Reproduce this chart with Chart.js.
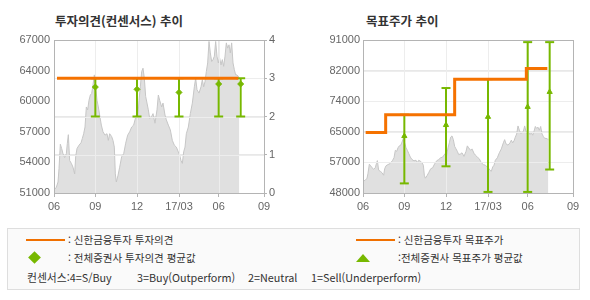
<!DOCTYPE html>
<html lang="ko">
<head>
<meta charset="utf-8">
<script src="https://cdn.jsdelivr.net/npm/chart.js@4.4.1/dist/chart.umd.min.js"></script>
<style>
  body { margin: 0; width: 590px; height: 300px; background: #fff; position: relative; overflow: hidden;
         font-family: "Noto Sans CJK KR", "Noto Sans", sans-serif; color: #333; }
  canvas { position: absolute; top: 0; }
  .title { position: absolute; top: 12px; font-size: 12.5px; font-weight: bold; line-height: 18px; color: #333; }
  #legend { position: absolute; left: 7px; top: 228px; width: 571px; height: 60px; border: 1px solid #dedede; background: #fafafa; }
  .lg { position: absolute; font-size: 10.5px; line-height: 14px; color: #333; white-space: pre; }
  .sw { position: absolute; height: 2px; width: 39px; background: #f07000; }
  .dia { position: absolute; width: 9px; height: 9px; background: #77b800; transform: rotate(45deg); }
  .tri { position: absolute; width: 0; height: 0; border-left: 7px solid transparent; border-right: 7px solid transparent; border-bottom: 8px solid #77b800; }
  .note { position: absolute; font-size: 10.8px; line-height: 14px; color: #333; white-space: pre; top: 270px; }
</style>
</head>
<body>
<div class="title" style="left:55px">투자의견(컨센서스) 추이</div>
<div class="title" style="left:366px">목표주가 추이</div>
<canvas id="opinion" width="300" height="225" style="left:0"></canvas>
<canvas id="target" width="290" height="225" style="left:300px"></canvas>

<div id="legend"></div>
<div class="sw" style="left:26px;top:239px"></div>
<div class="lg" style="left:68px;top:233px">: 신한금융투자 투자의견</div>
<div class="sw" style="left:356px;top:239px"></div>
<div class="lg" style="left:398px;top:233px">: 신한금융투자 목표주가</div>
<div class="dia" style="left:30px;top:253px"></div>
<div class="lg" style="left:68px;top:251px">: 전체증권사 투자의견 평균값</div>
<div class="tri" style="left:356px;top:254px"></div>
<div class="lg" style="left:398px;top:251px">:전체증권사 목표주가 평균값</div>
<div class="note" style="left:27px">컨센서스:4=S/Buy</div>
<div class="note" style="left:137px">3=Buy(Outperform)</div>
<div class="note" style="left:248px">2=Neutral</div>
<div class="note" style="left:311px">1=Sell(Underperform)</div>

<script>
// ── axes ────────────────────────────────────────────────────────────────
const xTickPos = [0, 62, 124.5, 187.5, 247, 315];
const xTickLabels = ["06", "09", "12", "17/03", "06", "09"];
const priceTicksL = ["67000", "64000", "60000", "57000", "54000", "51000"];
const priceTicksR = ["91000", "82000", "74000", "65000", "57000", "48000"];

// ── stock price (gray area) ─────────────────────────────────────────────
const priceX = [0, 3.5, 6, 7.5, 9.5, 11.5, 13.5, 16, 18.5, 20, 21.5, 23.5, 26, 28.5, 31, 32.5, 34.5, 37.5,
  40.5, 42.5, 44.5, 46.5, 48.5, 50.5, 52.5, 54.5, 56.5, 58.5, 60.5, 62.5, 64.5, 66.5, 68.5, 71, 73.5,
  76.5, 79.5, 81.5, 83.5, 86.5, 88.5, 90.5, 92, 93.5, 96, 98.5, 101.5, 104.5, 107.5, 110.5, 113.5,
  116.5, 119.5, 121.5, 123.5, 125.5, 127.5, 129.5, 131.5, 133.5, 135.5, 137.5, 139.5, 141.5, 143.5,
  146.5, 148.5, 151.5, 154.5, 156.5, 158.5, 161.5, 163.5, 166.5, 168.5, 171.5, 174.5, 177.5, 180.5,
  183.5, 186.5, 188.5, 190.5, 192.5, 194.5, 196.5, 198.5, 201.5, 204.5, 207.5, 210.5, 212.5, 214.5,
  217.5, 220.5, 222.5, 224.5, 226.5, 228.5, 230.5, 232.5, 234.5, 236.5, 238.5, 240.5, 242.5, 244.5,
  246.5, 248.5, 250.5, 252.5, 254.5, 256.5, 258.5, 260.5, 262.5, 264.5, 266.5, 268.5, 270.5, 272.5,
  274.5, 276.5, 278];
const priceY = [51300, 51600, 52150, 53550, 56100, 55650, 55100, 54700, 55100, 56200, 57100, 54400, 54100,
  53700, 53000, 54800, 55650, 56000, 56250, 56700, 57200, 57900, 60000, 59700, 60700, 61250, 61400,
  62300, 63350, 62100, 60700, 60000, 59150, 58100, 57400, 57050, 57200, 56500, 57200, 56900, 56500,
  55800, 53000, 52150, 52850, 53700, 54800, 55100, 56200, 57050, 57400, 57900, 58100, 58650, 59150,
  58650, 60700, 62100, 63700, 64050, 63000, 61100, 60400, 59700, 58800, 59000, 59300, 58300, 59700,
  61250, 60700, 60000, 60400, 59150, 58650, 58100, 57600, 56500, 56000, 55800, 55300, 54950, 54400,
  54100, 55300, 55800, 57200, 57900, 59300, 60400, 62100, 63000, 61800, 61450, 62100, 62850, 62100,
  62650, 63700, 64600, 66850, 65650, 64750, 64950, 65300, 66850, 65300, 64600, 65100, 64400, 64950,
  64250, 65300, 66700, 66150, 66500, 65650, 66700, 64600, 63900, 63350, 63350, 63200, 63000];

// ── 투자의견 (left chart) ────────────────────────────────────────────────
const opinionX = [4.5, 276.5];
const opinionY = [3, 3];
const consX = [62, 124.5, 187.5, 247, 280];
const consLo = [2, 2, 2, 2, 2];
const consHi = [3, 3, 3, 3, 3];
const consAvg = [2.77, 2.71, 2.63, 2.85, 2.85];

// ── 목표주가 (right chart) ───────────────────────────────────────────────
const targetX = [4, 34, 137.5, 245, 276.5];
const targetY = [65000, 70000, 80000, 83000, 83000];
const tpX = [62, 124.5, 187.5, 247, 280];
const tpLo = [50700, 55500, 48300, 48300, 54600];
const tpHi = [70000, 77500, 80000, 90400, 90400];
const tpAvg = [64000, 67100, 69400, 72200, 76400];

const ORANGE = "#f57200", GREEN = "#77b800", GRID = "#e8e8e8", FRAME = "#b4b4b4";
const tickFont = { family: "'Liberation Sans', Arial, sans-serif", size: 11 };
const pts = (xs, ys) => xs.map((x, i) => ({ x, y: ys[i] }));

// frame round the plot area
const framePlugin = {
  id: "frame",
  afterDraw(chart) {
    const { ctx, chartArea: a } = chart;
    ctx.save();
    ctx.strokeStyle = FRAME; ctx.lineWidth = 1;
    ctx.strokeRect(Math.round(a.left) + 0.5, Math.round(a.top) + 0.5, Math.round(a.right - a.left), Math.round(a.bottom - a.top));
    ctx.restore();
  },
};

// grid lines show through the price area, so redraw them right after it
const gridOverFill = {
  id: "gridOverFill",
  afterDatasetDraw(chart, args, opts) {
    if (chart.data.datasets[args.index].label !== "price") return;
    const { ctx, chartArea: a } = chart;
    const xs = chart.scales.x, ys = chart.scales[opts.axis];
    ctx.save();
    ctx.strokeStyle = "#ededed"; ctx.lineWidth = 1;
    ctx.beginPath();
    xs.ticks.forEach((t, i) => {
      const px = Math.round(xs.getPixelForTick(i)) + 0.5;
      ctx.moveTo(px, a.top); ctx.lineTo(px, a.bottom);
    });
    ys.ticks.forEach((t, i) => {
      const py = Math.round(ys.getPixelForTick(i)) + 0.5;
      ctx.moveTo(a.left, py); ctx.lineTo(a.right, py);
    });
    ctx.stroke();
    ctx.restore();
  },
};

function xScale() {
  return {
    type: "linear", min: 0, max: 315, offset: false,
    afterBuildTicks: (s) => { s.ticks = xTickPos.map((v) => ({ value: v })); },
    afterFit: (s) => { s.height = 32; },
    ticks: { autoSkip: false, maxRotation: 0, color: "#666", font: tickFont, padding: 3,
      callback: (v, i) => xTickLabels[i] },
    grid: { color: GRID, tickColor: FRAME, tickLength: 4, offset: false },
    border: { display: false },
  };
}

function rangeSets(xs, lo, hi, avg, yAxisID, markerStyle) {
  const bars = xs.map((x, i) => ({
    type: "line", yAxisID, data: [{ x, y: lo[i] }, { x, y: hi[i] }],
    borderColor: GREEN, borderWidth: 2, pointRadius: 0,
  }));
  const cap = (ys) => ({ type: "line", yAxisID, data: pts(xs, ys), showLine: false,
    pointStyle: "line", pointRadius: 4.5, borderColor: GREEN, borderWidth: 2 });
  const marks = { type: "line", yAxisID, data: pts(xs, avg), showLine: false,
    pointStyle: markerStyle, pointRadius: 3, backgroundColor: GREEN, borderColor: GREEN, borderWidth: 1 };
  return [marks, cap(hi), cap(lo), ...bars];
}

function priceSet(yAxisID) {
  return { label: "price", type: "line", yAxisID, data: pts(priceX, priceY),
    fill: "start", backgroundColor: "#e0e0e0", borderColor: "#c6c6c6", borderWidth: 1,
    pointRadius: 0, tension: 0 };
}

const common = {
  responsive: false, animation: false, events: [],
  plugins: { legend: { display: false }, tooltip: { enabled: false } },
};

// left: 투자의견(컨센서스) 추이
new Chart(document.getElementById("opinion"), {
  type: "line",
  data: { datasets: [
    { type: "line", yAxisID: "yO", data: pts(opinionX, opinionY), borderColor: ORANGE, borderWidth: 3, pointRadius: 0 },
    ...rangeSets(consX, consLo, consHi, consAvg, "yO", "rectRot"),
    priceSet("yP"),
  ] },
  options: {
    ...common,
    layout: { padding: { top: 40, right: 0, left: 0, bottom: 0 } },
    plugins: { ...common.plugins, gridOverFill: { axis: "yO" } },
    scales: {
      x: xScale(),
      yP: { position: "left", min: 51000, max: 67000,
        afterFit: (s) => { s.width = 54; },
        ticks: { stepSize: 3200, color: "#666", font: tickFont, padding: 4,
          callback: (v, i) => priceTicksL[priceTicksL.length - 1 - i] },
        grid: { display: false, drawTicks: false }, border: { display: false } },
      yO: { position: "right", min: 0, max: 4,
        afterFit: (s) => { s.width = 36; },
        ticks: { stepSize: 1, color: "#666", font: tickFont, padding: 2 },
        grid: { color: GRID, tickColor: FRAME, tickLength: 3 }, border: { display: false } },
    },
  },
  plugins: [gridOverFill, framePlugin],
});

// right: 목표주가 추이
new Chart(document.getElementById("target"), {
  type: "line",
  data: { datasets: [
    { type: "line", yAxisID: "y", data: pts(targetX, targetY), stepped: "before", borderColor: ORANGE, borderWidth: 3, pointRadius: 0 },
    ...rangeSets(tpX, tpLo, tpHi, tpAvg, "y", "triangle"),
    priceSet("y"),
  ] },
  options: {
    ...common,
    layout: { padding: { top: 40, right: 17, left: 0, bottom: 0 } },
    plugins: { ...common.plugins, gridOverFill: { axis: "y" } },
    scales: {
      x: xScale(),
      y: { position: "left", min: 48000, max: 91000,
        afterFit: (s) => { s.width = 63; },
        ticks: { stepSize: 8600, color: "#666", font: tickFont, padding: 3,
          callback: (v, i) => priceTicksR[priceTicksR.length - 1 - i] },
        grid: { color: GRID, drawTicks: false }, border: { display: false } },
    },
  },
  plugins: [gridOverFill, framePlugin],
});
</script>
</body>
</html>
